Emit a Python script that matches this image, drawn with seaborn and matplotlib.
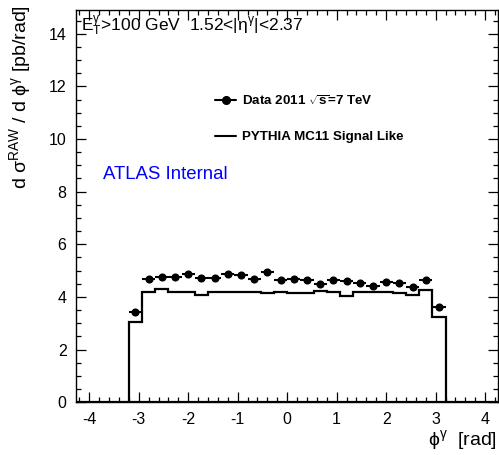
import numpy as np
import pandas as pd
import matplotlib
matplotlib.use("Agg")
import matplotlib.pyplot as plt
from matplotlib.lines import Line2D
from matplotlib.ticker import MultipleLocator
import seaborn as sns

# ---- data ----
phi_min, phi_max, n_bins = -3.2, 3.2, 24
data_values = [3.43, 4.67, 4.75, 4.76, 4.89, 4.72, 4.72, 4.89, 4.85, 4.67, 4.93, 4.64,
               4.67, 4.64, 4.51, 4.63, 4.60, 4.54, 4.42, 4.55, 4.54, 4.38, 4.64, 3.60]
mc_values = [3.06, 4.18, 4.29, 4.18, 4.18, 4.08, 4.17, 4.18, 4.19, 4.17, 4.14, 4.17,
             4.14, 4.14, 4.21, 4.18, 4.05, 4.17, 4.19, 4.17, 4.16, 4.06, 4.25, 3.24]
x_ticks = [-4, -3, -2, -1, 0, 1, 2, 3, 4]
y_ticks = [0, 2, 4, 6, 8, 10, 12, 14]

edges = np.linspace(phi_min, phi_max, n_bins + 1)
centers = 0.5 * (edges[:-1] + edges[1:])
half_w = 0.5 * (edges[1] - edges[0])
df = pd.DataFrame({"phi": centers, "data": data_values, "mc": mc_values})

sns.set_style("ticks")
plt.rcParams["font.family"] = ["Liberation Sans", "DejaVu Sans"]
plt.rcParams["mathtext.fontset"] = "custom"
plt.rcParams["mathtext.rm"] = "Liberation Sans"
plt.rcParams["mathtext.it"] = "Liberation Sans:italic"
plt.rcParams["mathtext.bf"] = "Liberation Sans:bold"
plt.rcParams["axes.unicode_minus"] = False
for k in ["text.color", "axes.labelcolor", "xtick.color", "ytick.color", "axes.edgecolor"]:
    plt.rcParams[k] = "black"

fig = plt.figure(figsize=(4.99, 4.55), dpi=100)
ax = fig.add_axes([0.153, 0.116, 0.845, 0.862])

ax.stairs(df["mc"], edges, baseline=0, color="black", linewidth=1.6)
ax.errorbar(df["phi"], df["data"], xerr=half_w, yerr=0.03, fmt="none",
            ecolor="black", elinewidth=1.5, capsize=0)
sns.scatterplot(data=df, x="phi", y="data", color="black", s=34, edgecolor="black",
                linewidth=0, zorder=5, ax=ax)
ax.axhline(0, xmin=0, xmax=1, color="black", linewidth=1.6, zorder=1)

ax.set_xlim(-4.26, 4.26)
ax.set_ylim(0, 14.9)
ax.set_xticks(x_ticks)
ax.set_yticks(y_ticks)
ax.xaxis.set_minor_locator(MultipleLocator(0.2))
ax.yaxis.set_minor_locator(MultipleLocator(0.5))
ax.tick_params(which="both", direction="in", top=True, right=True, labelsize=11.5)
ax.tick_params(which="major", length=7, width=0.9)
ax.tick_params(which="minor", length=3.5, width=0.9)
ax.tick_params(axis="x", pad=7)
ax.tick_params(axis="y", pad=7)
for s in ax.spines.values():
    s.set_linewidth(1.0)
    s.set_visible(True)

ax.set_xlabel("")
ax.set_ylabel("")
fig.text(0.996, 0.006, r"$\mathrm{\phi^{\gamma}}$  [rad]", ha="right", va="bottom", fontsize=14)
fig.text(0.04, 0.988, r"d $\mathrm{\sigma^{RAW}}$ / d $\mathrm{\phi^{\gamma}}$ [pb/rad]",
         rotation=90, ha="center", va="top", fontsize=14)

ax.text(0.01, 0.992, r"$\mathrm{E_{T}^{\gamma}}$>100 GeV  1.52<|$\mathrm{\eta^{\gamma}}$|<2.37",
        transform=ax.transAxes, ha="left", va="top", fontsize=12.5)
ax.text(0.063, 0.581, "ATLAS Internal", transform=ax.transAxes, color="#0000ff",
        ha="left", va="center", fontsize=13.4)

handles = [Line2D([0], [0], color="black", lw=1.5, marker="o", markersize=5.5),
           Line2D([0], [0], color="black", lw=1.5)]
labels = [r"Data 2011 $\mathbf{\sqrt{s}}$=7 TeV", "PYTHIA MC11 Signal Like"]
ax.legend(handles, labels, loc="upper left", bbox_to_anchor=(0.3, 0.817), frameon=False,
          prop={"weight": "bold", "size": 9.6}, handlelength=1.6, handletextpad=0.4,
          labelspacing=1.75)

fig.savefig("out.png", dpi=100)
